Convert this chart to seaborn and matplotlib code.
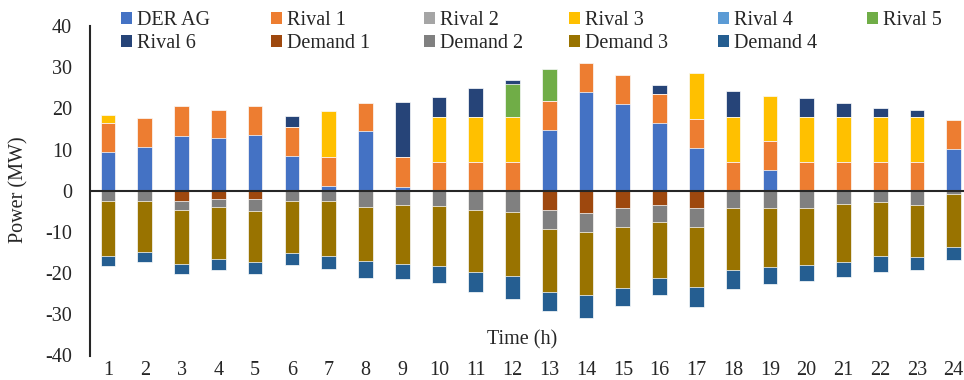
import matplotlib
matplotlib.use("Agg")
import matplotlib.pyplot as plt
from matplotlib.patches import Patch
import numpy as np
import pandas as pd
import seaborn as sns

# Hourly dispatch (MW): supply is positive, demand is negative
hours = [str(h) for h in range(1, 25)]

der_ag = [9.5, 10.7, 13.4, 12.7, 13.5, 8.5, 1.2, 14.4, 1.0, 0, 0, 0,
          14.7, 23.9, 21.1, 16.4, 10.4, 0, 5.1, 0, 0, 0, 0, 10.2]
rival_1 = [7.0, 6.9, 7.1, 7.0, 7.0, 7.0, 7.0, 7.0, 7.2, 7.0, 7.0, 7.0,
           7.0, 7.1, 7.0, 7.0, 7.0, 7.0, 7.0, 7.0, 7.0, 7.0, 7.0, 7.0]
rival_2 = [0] * 24
rival_3 = [1.9, 0, 0, 0, 0, 0, 11.2, 0, 0, 11.0, 11.0, 11.0,
           0, 0, 0, 0, 11.1, 11.0, 11.0, 11.0, 11.0, 11.0, 11.0, 0]
rival_4 = [0] * 24
rival_5 = [0, 0, 0, 0, 0, 0, 0, 0, 0, 0, 0, 8.0,
           7.8, 0, 0, 0, 0, 0, 0, 0, 0, 0, 0, 0]
rival_6 = [0, 0, 0, 0, 0, 2.6, 0, 0, 13.3, 4.8, 6.9, 0.85,
           0, 0, 0, 2.2, 0, 6.2, 0, 4.4, 3.2, 2.0, 1.7, 0]

demand_1 = [0, 0, 2.6, 2.0, 2.0, 0, 0, 0, 0, 0, 0, 0,
            4.7, 5.4, 4.2, 3.4, 4.2, 0, 0, 0, 0, 0, 0, 0]
demand_2 = [2.6, 2.5, 2.1, 2.0, 3.0, 2.5, 2.6, 3.9, 3.5, 3.8, 4.7, 5.2,
            4.6, 4.6, 4.5, 4.3, 4.5, 4.3, 4.3, 4.1, 3.3, 2.8, 3.4, 0.9]
demand_3 = [13.2, 12.4, 13.1, 12.6, 12.4, 12.7, 13.3, 13.1, 14.3, 14.4, 15.0, 15.5,
            15.3, 15.4, 15.0, 13.6, 14.6, 15.0, 14.2, 14.0, 13.9, 13.0, 12.8, 12.7]
demand_4 = [2.4, 2.5, 2.4, 2.7, 2.8, 2.8, 3.1, 4.1, 3.7, 4.3, 5.0, 5.7,
            4.6, 5.5, 4.3, 3.9, 4.9, 4.5, 4.1, 3.9, 3.7, 3.9, 3.1, 3.3]

supply_names = ["DER AG", "Rival 1", "Rival 2", "Rival 3", "Rival 4", "Rival 5", "Rival 6"]
supply_vals = [der_ag, rival_1, rival_2, rival_3, rival_4, rival_5, rival_6]
demand_names = ["Demand 1", "Demand 2", "Demand 3", "Demand 4"]
demand_vals = [demand_1, demand_2, demand_3, demand_4]

colors = {
    "DER AG": "#4472C4", "Rival 1": "#ED7D31", "Rival 2": "#A5A5A5",
    "Rival 3": "#FFC000", "Rival 4": "#5B9BD5", "Rival 5": "#70AD47",
    "Rival 6": "#264478", "Demand 1": "#9E480E", "Demand 2": "#808080",
    "Demand 3": "#997300", "Demand 4": "#255E91",
}

sns.set_theme(style="white")
plt.rcParams["font.family"] = ["Liberation Serif", "DejaVu Serif"]
plt.rcParams["axes.unicode_minus"] = False
text_color = "#262626"
fs = 14.5

W, H = 964, 380
fig = plt.figure(figsize=(W / 100, H / 100), dpi=100)
ax = fig.add_axes([90 / W, 1 - 355.5 / H, (W - 90) / W, (355.5 - 26) / H])

# Cumulative stacks, drawn outermost first so each layer shows its own segment
sup = np.cumsum(np.array(supply_vals, dtype=float), axis=0)
dem = -np.cumsum(np.array(demand_vals, dtype=float), axis=0)

layers = [(supply_names[i], sup[i]) for i in range(len(supply_names))][::-1]
layers += [(demand_names[i], dem[i]) for i in range(len(demand_names))][::-1]

for name, cum in layers:
    df = pd.DataFrame({"hour": hours, "value": cum})
    sns.barplot(data=df, x="hour", y="value", order=hours, color=colors[name],
                width=0.4, saturation=1, edgecolor="white", linewidth=0.5, ax=ax)

ax.axhline(0, color=text_color, lw=1.5, zorder=5)
ax.set_ylim(-40, 40)
ax.set_yticks(range(-40, 41, 10))
ax.set_xlim(-0.49, -0.49 + (W - 90) / 36.77)
ax.set_xlabel("")
ax.set_ylabel("")

for s in ["top", "right", "bottom"]:
    ax.spines[s].set_visible(False)
ax.spines["left"].set_color(text_color)
ax.spines["left"].set_linewidth(1.5)
ax.tick_params(axis="both", length=0, labelsize=fs, colors=text_color)
ax.tick_params(axis="y", pad=13)
ax.tick_params(axis="x", pad=4)

fig.text(19 / W, 1 - 190 / H, "Power (MW)", rotation=90, ha="center", va="center",
         fontsize=fs, color=text_color)
fig.text(522 / W, 1 - 340 / H, "Time (h)", ha="center", va="center",
         fontsize=fs, color=text_color)

# Legend laid out in six evenly spaced columns, two rows
columns = [["DER AG", "Rival 6"], ["Rival 1", "Demand 1"], ["Rival 2", "Demand 2"],
           ["Rival 3", "Demand 3"], ["Rival 4", "Demand 4"], ["Rival 5"]]
col_x = [121, 271, 424, 569, 718, 867]
for names, x in zip(columns, col_x):
    handles = [Patch(facecolor=colors[n], edgecolor="none") for n in names]
    fig.legend(handles, names, loc="upper left",
               bbox_to_anchor=(x / W, 1 - 11 / H), bbox_transform=fig.transFigure,
               frameon=False, fontsize=fs, borderpad=0, borderaxespad=0,
               handlelength=0.55, handleheight=0.55, handletextpad=0.25,
               labelspacing=0.2, labelcolor=text_color)

fig.savefig("out.png", dpi=100)
